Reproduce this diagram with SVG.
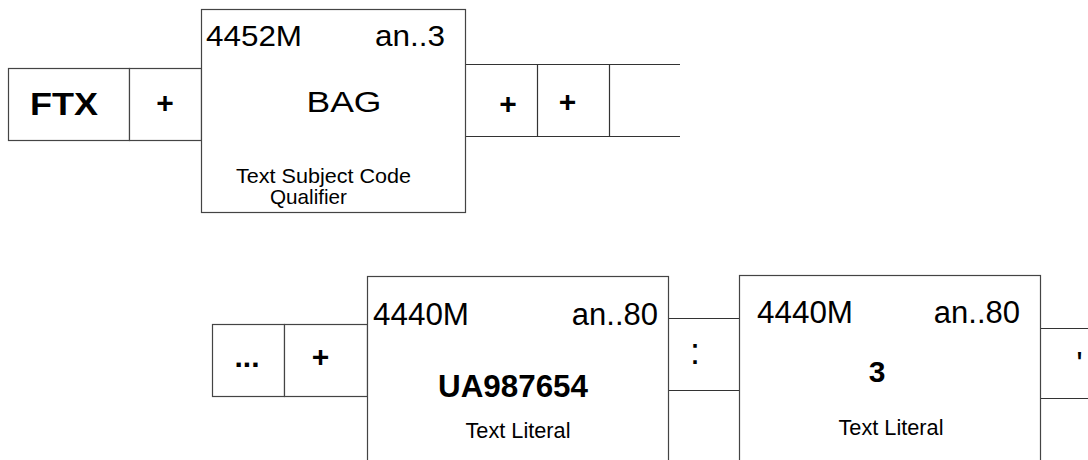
<svg xmlns="http://www.w3.org/2000/svg" width="1088" height="460" viewBox="0 0 1088 460">
<style>
.b{fill:#fff;stroke:#444;stroke-width:1.2}
.l{stroke:#333;stroke-width:1.2;fill:none}
.t{font-family:"Liberation Sans",Arial,sans-serif;fill:#000}
.bold{font-weight:bold}
</style>
<rect width="1088" height="460" fill="#fff"/>
<g id="connectors">
<path class="l" d="M129.5,68.5H201.5M129.5,140.5H201.5"/>
<path class="l" d="M465.5,64.5H680M465.5,136.5H680M537.5,64.5V136.5M609.5,64.5V136.5"/>
<path class="l" d="M284.5,324.5H367.5M284.5,396.5H367.5"/>
<path class="l" d="M668.5,318.5H739.5M668.5,390.5H739.5"/>
<path class="l" d="M1040.5,328.5H1088M1040.5,398.5H1088"/>
</g>
<g id="ftx">
<rect class="b" x="8.5" y="68.5" width="121" height="72"/>
<text class="t bold" x="64" y="115" font-size="32" text-anchor="middle" textLength="68" lengthAdjust="spacingAndGlyphs">FTX</text>
</g>
<g id="plus1">
<rect class="b" x="129.5" y="68.5" width="72" height="72" fill="none"/>
<text class="t bold" x="165" y="113" font-size="30" text-anchor="middle">+</text>
</g>
<g id="bag">
<rect class="b" x="201.5" y="9.5" width="264" height="203"/>
<text class="t" x="206" y="46" font-size="29" textLength="96" lengthAdjust="spacingAndGlyphs">4452M</text>
<text class="t" x="445" y="46" font-size="29" text-anchor="end" textLength="70" lengthAdjust="spacingAndGlyphs">an..3</text>
<text class="t" x="344" y="112" font-size="30" text-anchor="middle" textLength="75" lengthAdjust="spacingAndGlyphs">BAG</text>
<text class="t" x="236" y="183" font-size="21" textLength="175" lengthAdjust="spacingAndGlyphs">Text Subject Code</text>
<text class="t" x="270" y="203.5" font-size="21" textLength="77" lengthAdjust="spacingAndGlyphs">Qualifier</text>
</g>
<g id="plus2">
<text class="t bold" x="508" y="114" font-size="30" text-anchor="middle">+</text>
</g>
<g id="plus3">
<text class="t bold" x="567.5" y="112" font-size="30" text-anchor="middle">+</text>
</g>
<g id="open">
<path class="l" d="M609.5,64.5H680M609.5,136.5H680" stroke-width="2"/>
</g>
<g id="dots">
<rect class="b" x="212.5" y="324.5" width="72" height="72"/>
<text class="t bold" x="247" y="367" font-size="30" text-anchor="middle">...</text>
</g>
<g id="plus4">
<rect class="b" x="284.5" y="324.5" width="83" height="72" fill="none"/>
<text class="t bold" x="320.5" y="367" font-size="30" text-anchor="middle">+</text>
</g>
<g id="elem1">
<rect class="b" x="367.5" y="276.5" width="301" height="200"/>
<text class="t" x="373" y="325" font-size="31" textLength="96" lengthAdjust="spacingAndGlyphs">4440M</text>
<text class="t" x="658" y="325" font-size="31" text-anchor="end">an..80</text>
<text class="t bold" x="513" y="397" font-size="32" text-anchor="middle" textLength="150" lengthAdjust="spacingAndGlyphs">UA987654</text>
<text class="t" x="518" y="438" font-size="21.5" text-anchor="middle" textLength="105" lengthAdjust="spacingAndGlyphs">Text Literal</text>
</g>
<g id="colon">
<text class="t" x="690" y="364" font-size="36">:</text>
</g>
<g id="elem2">
<rect class="b" x="739.5" y="275.5" width="301" height="200"/>
<text class="t" x="757" y="323" font-size="31" textLength="96" lengthAdjust="spacingAndGlyphs">4440M</text>
<text class="t" x="1020" y="323" font-size="31" text-anchor="end">an..80</text>
<text class="t bold" x="877" y="382" font-size="30" text-anchor="middle">3</text>
<text class="t" x="891" y="435" font-size="21.5" text-anchor="middle" textLength="105" lengthAdjust="spacingAndGlyphs">Text Literal</text>
</g>
<g id="apos">
<text class="t" x="1079.5" y="375" font-size="34" text-anchor="middle">'</text>
</g>
</svg>
